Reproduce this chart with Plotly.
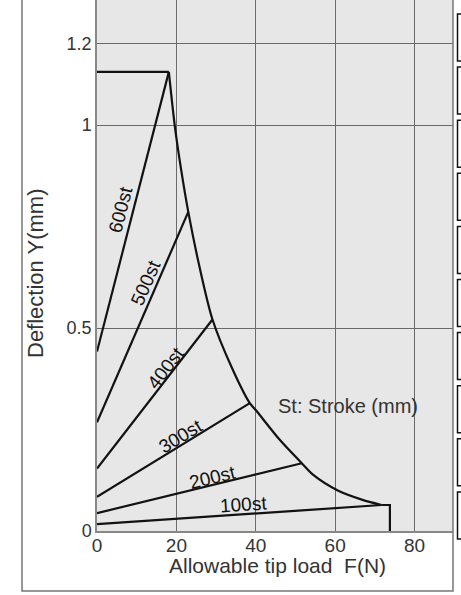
import math
import plotly.graph_objects as go

# stroke lines: deflection at zero load -> end point on the limit curve
strokes = ["100st", "200st", "300st", "400st", "500st", "600st"]
defl_at_zero = [0.017, 0.044, 0.084, 0.154, 0.268, 0.442]
end_load = [71.7, 51.6, 38.5, 29.1, 23.0, 18.1]
end_defl = [0.064, 0.167, 0.315, 0.521, 0.786, 1.131]

# allowable limit envelope (top cap, curved part, end cap)
cap_load = [0, 18.1]
cap_defl = [1.131, 1.131]
curve_load = [18.1, 19.6, 21.2, 23.0, 25.8, 29.1, 33.9, 38.5, 40.0, 46.1,
              51.6, 54.5, 60.8, 67.1, 71.7]
curve_defl = [1.131, 0.998, 0.89, 0.786, 0.652, 0.521, 0.404, 0.315, 0.298,
              0.224, 0.167, 0.138, 0.099, 0.076, 0.064]
end_cap_load = [71.7, 73.8, 73.8]
end_cap_defl = [0.064, 0.064, 0.0]

x_ticks = [0, 20, 40, 60, 80]
y_ticks = [0, 0.5, 1, 1.2]
y_tick_text = ["0", "0.5", "1", "1.2"]

W, H = 461, 595
M = dict(l=97, r=8, t=0, b=64)
X_RANGE = [0, 89.7]
Y_RANGE = [0, 1.308]
PW, PH = W - M["l"] - M["r"], H - M["t"] - M["b"]
px_x = PW / (X_RANGE[1] - X_RANGE[0])
px_y = PH / (Y_RANGE[1] - Y_RANGE[0])

LINE = dict(color="#121212", width=2.2)
FONT = "Liberation Sans, Arial, sans-serif"

fig = go.Figure()
for s, y0, xe, ye in zip(strokes, defl_at_zero, end_load, end_defl):
    fig.add_trace(go.Scatter(x=[0, xe], y=[y0, ye], mode="lines", line=LINE,
                             name=s, showlegend=False, hoverinfo="skip"))
fig.add_trace(go.Scatter(x=cap_load, y=cap_defl, mode="lines", line=LINE,
                         showlegend=False, hoverinfo="skip"))
fig.add_trace(go.Scatter(x=curve_load, y=curve_defl, mode="lines",
                         line=dict(LINE, shape="spline", smoothing=0.8),
                         showlegend=False, hoverinfo="skip"))
fig.add_trace(go.Scatter(x=end_cap_load, y=end_cap_defl, mode="lines", line=LINE,
                         showlegend=False, hoverinfo="skip"))


def px_to_data(px, py):
    return (px - M["l"]) / px_x, (M["t"] + PH - py) / px_y


# stroke label centres, in pixels of the picture
label_px = {"600st": (120, 210), "500st": (145, 283), "400st": (165, 368),
            "300st": (180, 436), "200st": (212, 477), "100st": (243, 504)}
annotations = []
for s, y0, xe, ye in zip(strokes, defl_at_zero, end_load, end_defl):
    ang = math.degrees(math.atan2((ye - y0) * px_y, xe * px_x))
    lx, ly = px_to_data(*label_px[s])
    annotations.append(dict(x=lx, y=ly, text=s, showarrow=False, textangle=-ang,
                            font=dict(size=19, color="#111", family=FONT)))

sx, sy = px_to_data(348, 406)
annotations += [
    dict(x=sx, y=sy, text="St: Stroke (mm)", showarrow=False,
         font=dict(size=20, color="#333", family=FONT)),
    dict(x=(277 - M["l"]) / PW, y=-(565 - PH) / PH, xref="paper", yref="paper",
         xanchor="center", yanchor="middle", text="Allowable tip load  F(N)",
         showarrow=False, font=dict(size=21, color="#333", family=FONT)),
    dict(x=(35 - M["l"]) / PW, y=(PH - 273) / PH, xref="paper", yref="paper",
         xanchor="center", yanchor="middle", text="Deflection Y(mm)",
         textangle=-90, showarrow=False, font=dict(size=22, color="#333", family=FONT)),
]

shapes = [dict(type="rect", xref="paper", yref="paper", x0=(22 - M["l"]) / PW, x1=1.0,
               y0=-(591 - PH) / PH, y1=1.05, line=dict(color="#777", width=1.5),
               layer="above")]
# cut-off table boxes at the right border
for i in range(10):
    top = 14 + i * 53.1
    shapes.append(dict(type="rect", xref="paper", yref="paper",
                       x0=(457.5 - M["l"]) / PW, x1=1.06,
                       y0=(PH - top - 47) / PH, y1=(PH - top) / PH,
                       line=dict(color="#111", width=1.5), layer="above"))

fig.update_layout(
    width=W, height=H, margin=M,
    plot_bgcolor="#e7e7e7", paper_bgcolor="white",
    font=dict(family=FONT, size=18, color="#333"),
    annotations=annotations, shapes=shapes,
    xaxis=dict(range=X_RANGE, tickvals=x_ticks, showgrid=True, gridcolor="#6a6a6a",
               gridwidth=1.3, zeroline=False, showline=True, linecolor="#888",
               linewidth=1.5, ticks="", ticklabelstandoff=-4,
               tickfont=dict(size=19, color="#333")),
    yaxis=dict(range=Y_RANGE, tickvals=y_ticks, ticktext=y_tick_text, showgrid=True,
               gridcolor="#6a6a6a", gridwidth=1.3, zeroline=False, showline=True,
               linecolor="#888", linewidth=1.5, ticks="",
               tickfont=dict(size=18, color="#333")),
)

fig.write_html("out.html", config={"displayModeBar": False},
               post_script="document.body.style.margin='0';")
